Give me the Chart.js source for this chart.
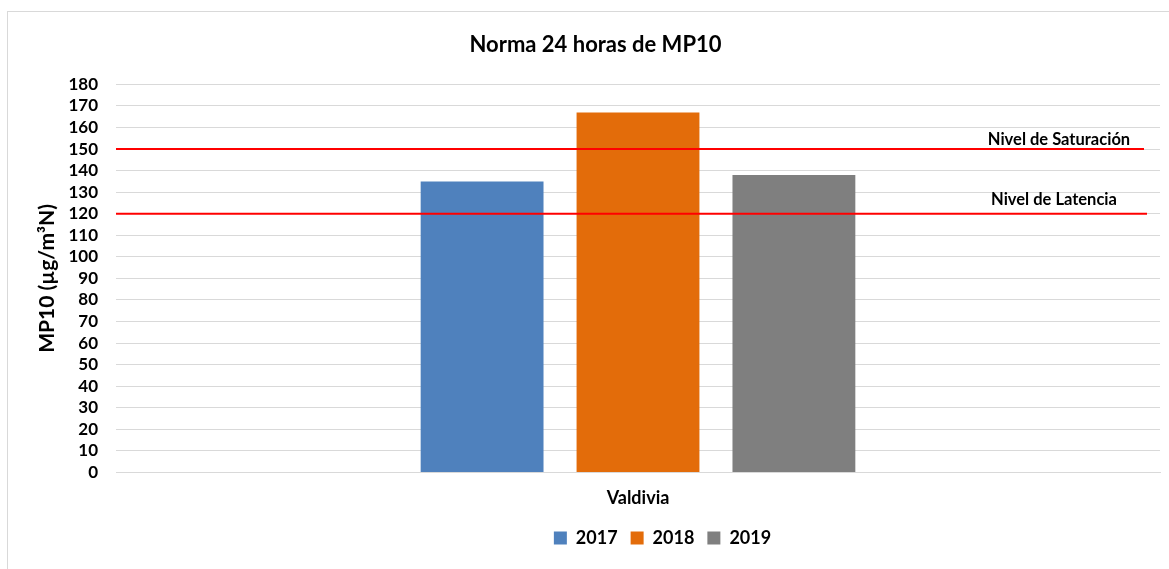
<!DOCTYPE html>
<html>
<head>
<meta charset="utf-8">
<script src="https://cdn.jsdelivr.net/npm/chart.js@4/dist/chart.umd.min.js"></script>
<style>
  html, body { margin: 0; padding: 0; background: #fff; }
  #wrap { position: relative; width: 1169px; height: 569px; }
  #frame { position: absolute; left: 7px; top: 11px; width: 1170px; height: 570px; border: 1px solid #d9d9d9; box-sizing: border-box; }
  canvas { position: absolute; left: 0; top: 0; }
</style>
</head>
<body>
<div id="wrap">
  <div id="frame"></div>
  <canvas id="chart" width="1169" height="569"></canvas>
</div>
<script>
const categories = ['Valdivia'];
const years = ['2017', '2018', '2019'];
const values2017 = [135];
const values2018 = [167];
const values2019 = [138];
const limitValues = [150, 120];
const limitLabels = ['Nivel de Saturación', 'Nivel de Latencia'];

const colors = ['#4f81bd', '#e36c0a', '#7f7f7f'];
const font = 'Lato, "Open Sans", sans-serif';
// placement of the hand drawn red lines and their labels, relative to the plot's right edge
const limitStyle = [
  { lineEnd: -16, labelX: -101, labelDy: -4 },
  { lineEnd: -13, labelX: -106, labelDy: -9 }
];

const limitLines = {
  id: 'limitLines',
  afterDatasetsDraw(chart) {
    const { ctx, chartArea, scales } = chart;
    ctx.save();
    limitValues.forEach((v, i) => {
      const s = limitStyle[i];
      const y = scales.y.getPixelForValue(v);
      ctx.strokeStyle = '#ff0000';
      ctx.lineWidth = 2;
      ctx.beginPath();
      ctx.moveTo(chartArea.left, y);
      ctx.lineTo(chartArea.right + s.lineEnd, y);
      ctx.stroke();
      ctx.fillStyle = '#000';
      ctx.font = 'bold 16.5px ' + font;
      ctx.textAlign = 'center';
      ctx.textBaseline = 'alphabetic';
      ctx.fillText(limitLabels[i], chartArea.right + s.labelX, y + s.labelDy);
    });
    ctx.restore();
  }
};

// legend in the original sits a bit right of centre
const legendShift = {
  id: 'legendShift',
  afterLayout(chart) {
    chart.legend.left += 67;
    chart.legend.right += 67;
  }
};

new Chart(document.getElementById('chart'), {
  type: 'bar',
  data: {
    labels: categories,
    datasets: [
      { label: years[0], data: values2017, backgroundColor: colors[0] },
      { label: years[1], data: values2018, backgroundColor: colors[1] },
      { label: years[2], data: values2019, backgroundColor: colors[2] }
    ]
  },
  options: {
    responsive: false,
    animation: false,
    layout: { padding: { left: 31, right: 9, top: 24, bottom: 12 } },
    datasets: { bar: { categoryPercentage: 0.448, barPercentage: 0.788 } },
    plugins: {
      title: {
        display: true,
        text: 'Norma 24 horas de MP10',
        color: '#000',
        font: { family: font, size: 22, weight: 'bold' },
        padding: { top: 8, bottom: 26 }
      },
      legend: {
        position: 'bottom',
        labels: {
          color: '#000',
          boxWidth: 13,
          boxHeight: 13,
          padding: 13,
          font: { family: font, size: 18, weight: 'bold' }
        }
      },
      tooltip: { enabled: false }
    },
    scales: {
      x: {
        grid: { display: false },
        border: { color: '#d9d9d9' },
        ticks: { color: '#000', font: { family: font, size: 18, weight: 'bold' }, padding: 7 }
      },
      y: {
        min: 0,
        max: 180,
        afterFit(scale) { scale.width = 85; },
        ticks: { stepSize: 10, autoSkip: false, color: '#000', font: { family: font, size: 17, weight: 'bold' }, padding: 18 },
        grid: { color: '#d9d9d9', drawTicks: false },
        border: { display: false },
        title: {
          display: true,
          text: 'MP10 (µg/m³N)',
          color: '#000',
          font: { family: font, size: 21, weight: 'bold' },
          padding: { top: 4, bottom: 6 }
        }
      }
    }
  },
  plugins: [limitLines, legendShift]
});
</script>
</body>
</html>
